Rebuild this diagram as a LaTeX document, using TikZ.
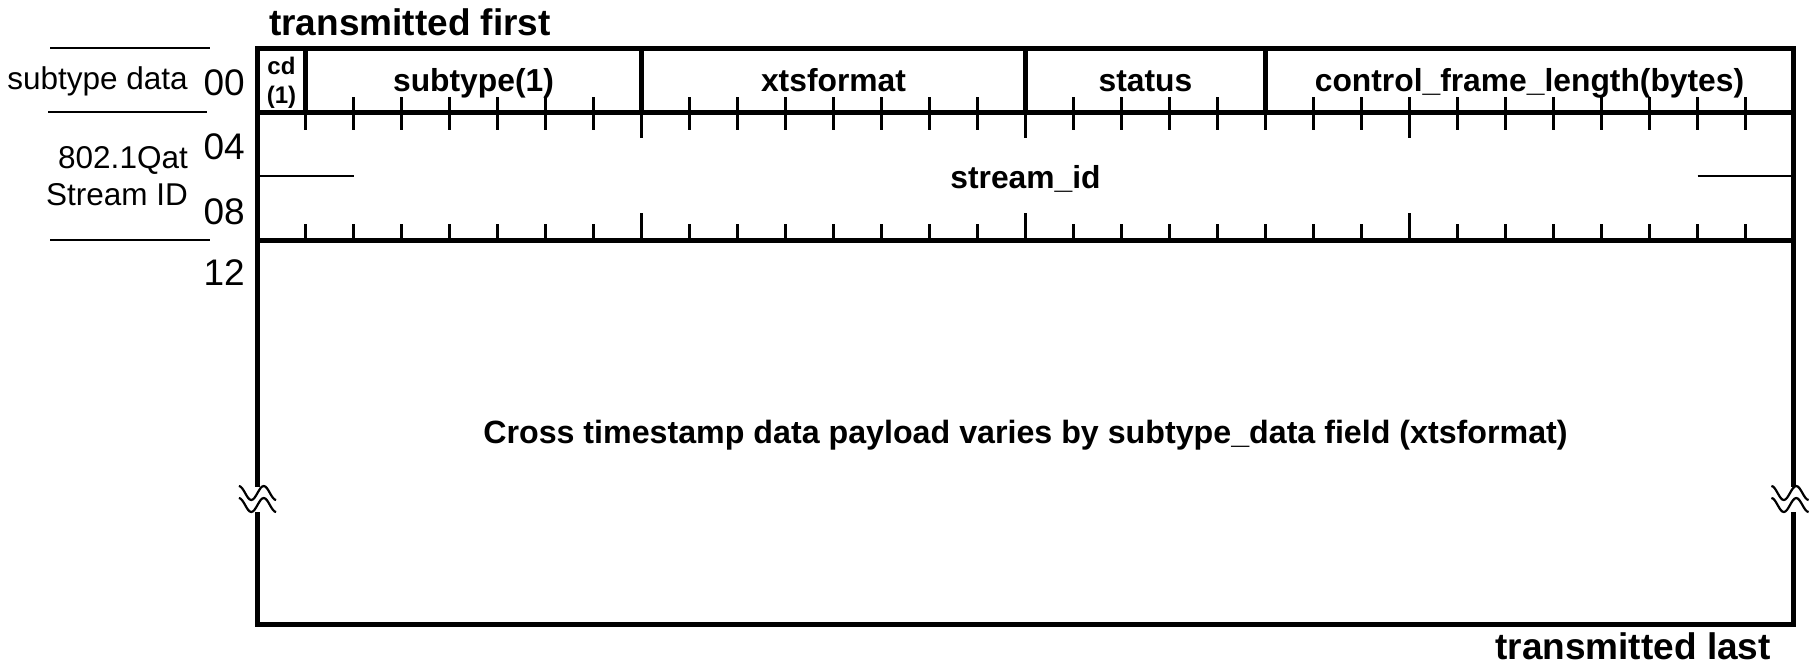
\documentclass[tikz,border=0pt]{standalone}
\usepackage{fontspec}
\setmainfont{Liberation Sans}
\newcommand\brkwave[2]{%
  \draw[wave] (#1-18.6,#2) cos (#1-12.4,#2+7) sin (#1-6.2,#2+14) cos (#1,#2+7) sin (#1+6.2,#2) cos (#1+12.4,#2+7) sin (#1+18.6,#2+14);
  \draw[wave] (#1-18.6,#2+12) cos (#1-12.4,#2+19) sin (#1-6.2,#2+26) cos (#1,#2+19) sin (#1+6.2,#2+12) cos (#1+12.4,#2+19) sin (#1+18.6,#2+26);
}
\begin{document}
\begin{tikzpicture}[x=1pt,y=-1pt,
  border/.style={line width=5pt, line join=miter, line cap=rect},
  divider/.style={line width=5pt},
  thinline/.style={line width=2pt},
  tickline/.style={line width=2.2pt},
  wave/.style={line width=2.2pt},
  fieldlbl/.style={inner sep=0pt, anchor=base, font=\fontsize{31.8}{36}\selectfont\bfseries},
  smalllbl/.style={inner sep=0pt, anchor=base, font=\fontsize{24}{26}\selectfont\bfseries},
  sidelbl/.style={inner sep=0pt, anchor=base east, font=\fontsize{31.5}{36}\selectfont},
  numlbl/.style={inner sep=0pt, anchor=base east, font=\fontsize{37}{40}\selectfont},
  titlelbl/.style={inner sep=0pt, font=\fontsize{37}{40}\selectfont\bfseries}]
\useasboundingbox (0,0) rectangle (1814,664);

% ticks
\foreach \i in {1,...,31} {
  \pgfmathsetmacro\xx{257.5+48*\i}
  \pgfmathtruncatemacro\isbyte{mod(\i,8)==0 ? 1 : 0}
  \ifnum\isbyte=1
    \draw[tickline] (\xx,97) -- (\xx,138);
    \draw[tickline] (\xx,213) -- (\xx,240);
  \else
    \draw[tickline] (\xx,97) -- (\xx,130);
    \draw[tickline] (\xx,224) -- (\xx,240);
  \fi
}

% stream id side lines
\draw[thinline] (257.5,176) -- (353.5,176);
\draw[thinline] (1697.5,176) -- (1793.5,176);

% outer box with breaks
\draw[border] (257.5,484) -- (257.5,48) -- (1793.5,48) -- (1793.5,484);
\draw[border] (257.5,514) -- (257.5,624) -- (1793.5,624) -- (1793.5,514);
\draw[divider] (257.5,112) -- (1793.5,112);
\draw[divider] (257.5,240) -- (1793.5,240);

% field dividers
\foreach \b in {1,8,16,21} {
  \draw[divider] ({257.5+48*\b},48) -- ({257.5+48*\b},112);
}

% break marks
\brkwave{257.5}{486}
\brkwave{1790}{486}

% left side lines
\draw[thinline] (50,48) -- (210,48);
\draw[thinline] (48,112) -- (207,112);
\draw[thinline] (50,240) -- (210,240);

% labels
\node[titlelbl, anchor=base west] (tfirst) at (269,35) {transmitted first};
\node[titlelbl, anchor=base east] (tlast) at (1771,659) {transmitted last};

\node[smalllbl] (cd) at (281.5,74) {cd};
\node[smalllbl] (cdone) at (281.5,103) {(1)};
\node[fieldlbl] (subtype) at (473.5,91) {subtype(1)};
\node[fieldlbl] (xts) at (833.5,91) {xtsformat};
\node[fieldlbl] (status) at (1145.5,91) {status};
\node[fieldlbl] (cfl) at (1529.5,91) {control\_frame\_length(bytes)};
\node[fieldlbl] (sid) at (1025.5,188) {stream\_id};
\node[fieldlbl, font=\fontsize{32.2}{36}\selectfont\bfseries] (payload) at (1025.5,443) {Cross timestamp data payload varies by subtype\_data field (xtsformat)};

\node[sidelbl] (sd) at (188,89) {subtype data};
\node[sidelbl] (q1) at (188,168) {802.1Qat};
\node[sidelbl] (q2) at (188,205) {Stream ID};
\node[numlbl] (n00) at (245,95) {00};
\node[numlbl] (n04) at (245,159) {04};
\node[numlbl] (n08) at (245,224) {08};
\node[numlbl] (n12) at (245,285) {12};
\end{tikzpicture}
\end{document}
